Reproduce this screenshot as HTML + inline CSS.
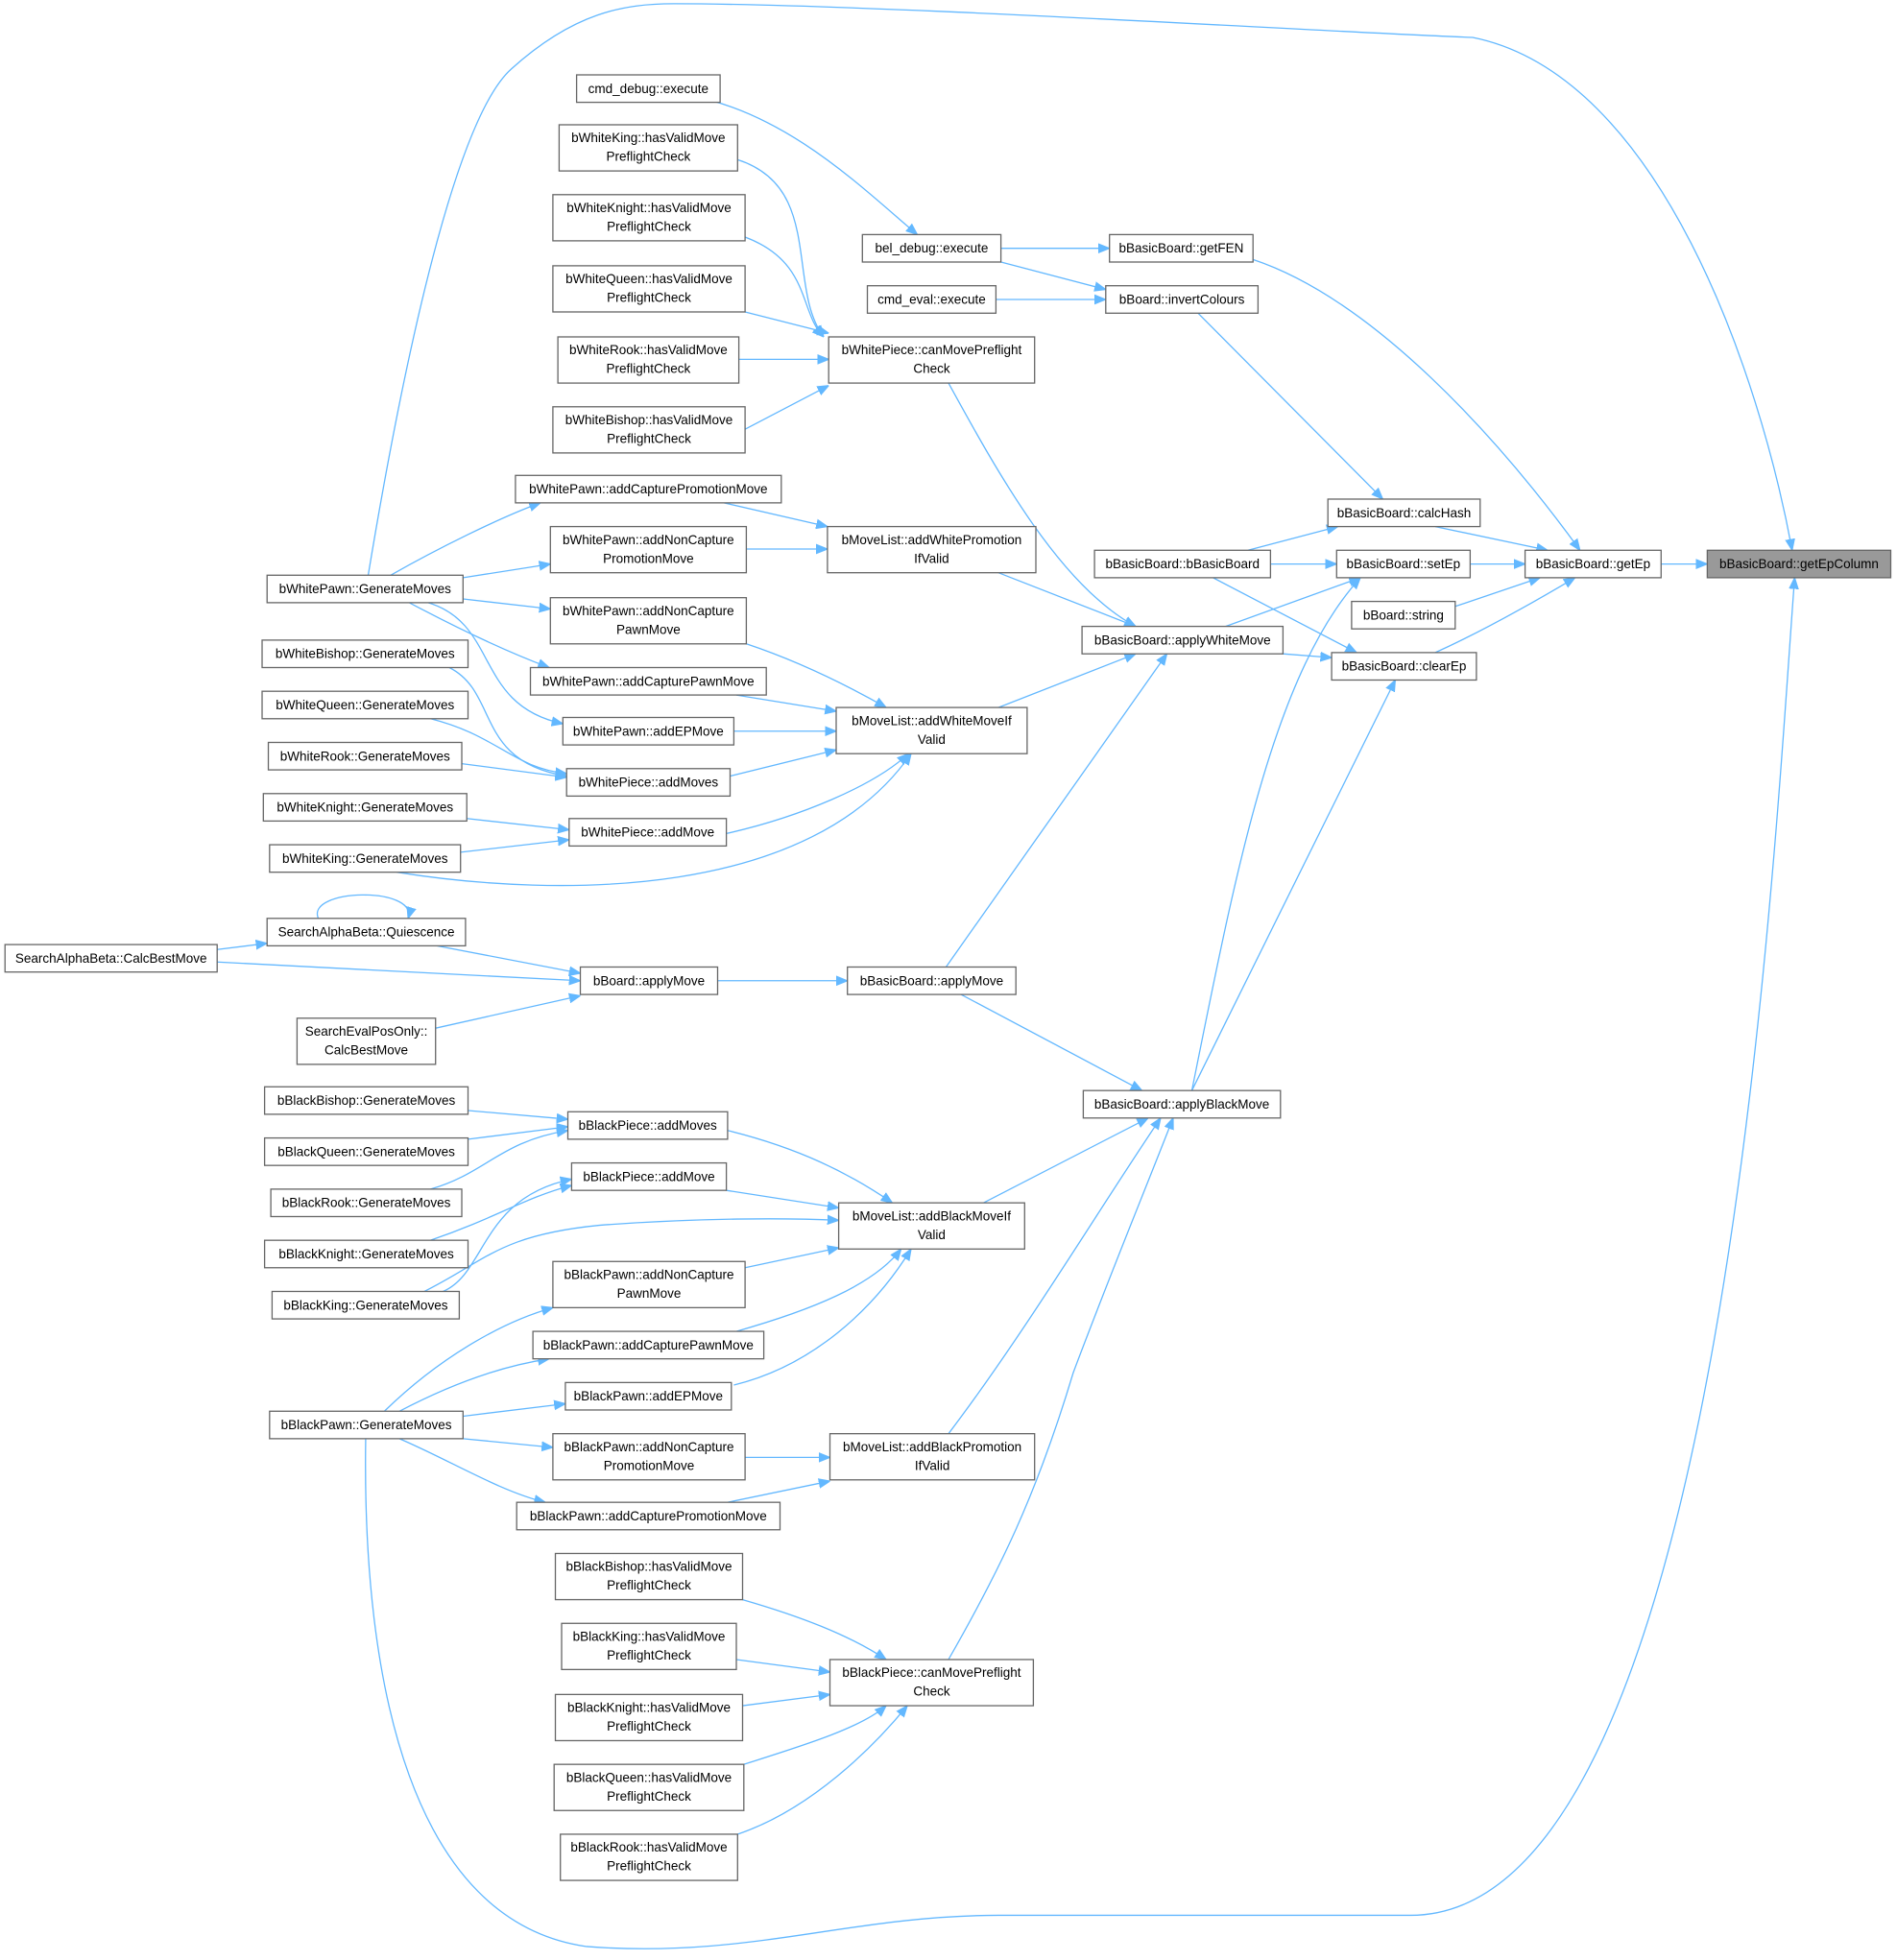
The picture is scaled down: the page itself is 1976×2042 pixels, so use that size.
<!DOCTYPE html>
<html><head><meta charset="utf-8"><style>
html,body{margin:0;padding:0;background:#fff;}
svg{display:block;}
text{font-family:"Liberation Sans",sans-serif;font-size:10.4px;fill:#000;text-anchor:middle;}
rect{fill:#fff;stroke:#666;stroke-width:1;}
path{fill:none;stroke:#63b8ff;stroke-width:1;}
</style></head><body>
<svg width="1976" height="2042" viewBox="0 0 1520 1570.8" xmlns="http://www.w3.org/2000/svg">
<defs><marker id="a" viewBox="0 0 10 10" refX="10" refY="5" markerWidth="9" markerHeight="9" markerUnits="userSpaceOnUse" orient="auto"><path d="M0,1 L10,5 L0,9 Z" style="fill:#63b8ff;stroke:#63b8ff"/></marker></defs>
<g marker-end="url(#a)">
<path d="M1331,452 L1368,452"/>
<path d="M295,461 C330,250 370,90 410,55 C460,10 500,3 540,3 C700,3 1050,25 1180,30 C1330,60 1410,300 1436,441"/>
<path d="M293,1153 C290,1350 330,1540 470,1560 C600,1570 680,1535 800,1535 L1130,1535 C1380,1535 1420,700 1438,463"/>
<path d="M1150,422 L1240,441"/>
<path d="M1178,452 L1222,452"/>
<path d="M1166,486 L1234,463"/>
<path d="M1150,523 C1190,505 1230,482 1262,463"/>
<path d="M1004,208 C1100,240 1200,350 1266,441"/>
<path d="M960,251 L1108,400"/>
<path d="M1000,441 L1072,422"/>
<path d="M1018,452 L1071,452"/>
<path d="M972,463 L1087,523"/>
<path d="M982,502 L1090,463"/>
<path d="M1028,524 L1067,527"/>
<path d="M955,874 C990,700 1020,540 1090,463"/>
<path d="M955,874 L1118,545"/>
<path d="M802,199 L889,199"/>
<path d="M802,210 L886,232"/>
<path d="M798,240 L886,240"/>
<path d="M550,76 C630,90 690,150 735,188"/>
<path d="M760,307 C800,380 850,470 910,502"/>
<path d="M591,128 C660,150 630,230 660,270"/>
<path d="M597,190 C650,210 640,250 660,270"/>
<path d="M597,250 L664,267"/>
<path d="M592,288 L664,288"/>
<path d="M597,344 L664,309"/>
<path d="M800,459 L910,502"/>
<path d="M800,567 L910,524"/>
<path d="M758,775 L935,524"/>
<path d="M770,797 L915,874"/>
<path d="M575,786 L679,786"/>
<path d="M350,758 L465,780"/>
<path d="M255,736 C245,712 335,710 327,736"/>
<path d="M174,761 L214,756"/>
<path d="M174,771 L465,786"/>
<path d="M349,824 L465,798"/>
<path d="M580,403 L663,422"/>
<path d="M598,440 L663,440"/>
<path d="M598,516 C640,530 680,550 710,567"/>
<path d="M590,557 L670,570"/>
<path d="M588,586 L670,586"/>
<path d="M585,622 L670,601"/>
<path d="M582,668 C640,655 700,630 728,604"/>
<path d="M318,699 C450,720 650,720 730,604"/>
<path d="M313,461 C350,440 400,415 433,403"/>
<path d="M371,463 L441,452"/>
<path d="M371,480 L441,488"/>
<path d="M328,483 C360,500 400,520 440,535"/>
<path d="M343,483 C400,500 380,565 451,580"/>
<path d="M360,535 C400,555 380,610 454,622"/>
<path d="M345,576 C400,590 410,615 454,620"/>
<path d="M370,612 L454,623"/>
<path d="M374,656 L456,665"/>
<path d="M369,683 L456,673"/>
<path d="M788,964 L920,896"/>
<path d="M760,1149 C820,1070 880,970 930,896"/>
<path d="M760,1330 C800,1260 830,1200 860,1100 C890,1020 915,960 940,896"/>
<path d="M583,906 C640,920 680,940 715,964"/>
<path d="M582,954 L672,968"/>
<path d="M340,1035 C390,1010 400,990 480,982 C560,976 630,976 672,978"/>
<path d="M597,1016 L672,1000"/>
<path d="M590,1067 C650,1050 700,1030 722,1001"/>
<path d="M588,1110 C650,1095 700,1050 730,1001"/>
<path d="M597,1168 L665,1168"/>
<path d="M583,1204 L665,1187"/>
<path d="M375,890 L455,897"/>
<path d="M375,913 L455,903"/>
<path d="M345,953 C390,940 400,915 455,906"/>
<path d="M345,994 C400,975 420,960 458,950"/>
<path d="M355,1035 C390,1020 385,960 458,945"/>
<path d="M308,1131 C350,1090 400,1060 443,1048"/>
<path d="M320,1131 C360,1110 400,1095 440,1089"/>
<path d="M371,1135 L453,1125"/>
<path d="M371,1153 L443,1160"/>
<path d="M320,1153 C360,1170 400,1195 437,1204"/>
<path d="M595,1282 C640,1295 680,1310 710,1330"/>
<path d="M590,1330 L665,1340"/>
<path d="M595,1367 L665,1358"/>
<path d="M596,1414 C640,1400 690,1385 710,1367"/>
<path d="M591,1470 C650,1450 700,1400 727,1367"/>
</g>
<g>
<rect x="1368" y="441" width="147" height="22" style="fill:#999"/><text x="1441.5" y="455.5">bBasicBoard::getEpColumn</text>
<rect x="1222" y="441" width="109" height="22"/><text x="1276.5" y="455.5">bBasicBoard::getEp</text>
<rect x="1064" y="400" width="122" height="22"/><text x="1125" y="414.5">bBasicBoard::calcHash</text>
<rect x="1071" y="441" width="107" height="22"/><text x="1124.5" y="455.5">bBasicBoard::setEp</text>
<rect x="1083" y="482" width="83" height="22"/><text x="1124.5" y="496.5">bBoard::string</text>
<rect x="1067" y="523" width="116" height="22"/><text x="1125" y="537.5">bBasicBoard::clearEp</text>
<rect x="889" y="188" width="115" height="22"/><text x="946.5" y="202.5">bBasicBoard::getFEN</text>
<rect x="886" y="229" width="122" height="22"/><text x="947" y="243.5">bBoard::invertColours</text>
<rect x="691" y="188" width="111" height="22"/><text x="746.5" y="202.5">bel_debug::execute</text>
<rect x="695" y="229" width="103" height="22"/><text x="746.5" y="243.5">cmd_eval::execute</text>
<rect x="462" y="60" width="115" height="22"/><text x="519.5" y="74.5">cmd_debug::execute</text>
<rect x="877" y="441" width="141" height="22"/><text x="947.5" y="455.5">bBasicBoard::bBasicBoard</text>
<rect x="867" y="502" width="161" height="22"/><text x="947.5" y="516.5">bBasicBoard::applyWhiteMove</text>
<rect x="664" y="270" width="165" height="37"/><text x="746.5" y="284">bWhitePiece::canMovePreflight</text><text x="746.5" y="299">Check</text>
<rect x="448" y="100" width="143" height="37"/><text x="519.5" y="114">bWhiteKing::hasValidMove</text><text x="519.5" y="129">PreflightCheck</text>
<rect x="443" y="156" width="154" height="37"/><text x="520" y="170">bWhiteKnight::hasValidMove</text><text x="520" y="185">PreflightCheck</text>
<rect x="443" y="213" width="154" height="37"/><text x="520" y="227">bWhiteQueen::hasValidMove</text><text x="520" y="242">PreflightCheck</text>
<rect x="447" y="270" width="145" height="37"/><text x="519.5" y="284">bWhiteRook::hasValidMove</text><text x="519.5" y="299">PreflightCheck</text>
<rect x="443" y="326" width="154" height="37"/><text x="520" y="340">bWhiteBishop::hasValidMove</text><text x="520" y="355">PreflightCheck</text>
<rect x="413" y="381" width="213" height="22"/><text x="519.5" y="395.5">bWhitePawn::addCapturePromotionMove</text>
<rect x="441" y="422" width="157" height="37"/><text x="519.5" y="436">bWhitePawn::addNonCapture</text><text x="519.5" y="451">PromotionMove</text>
<rect x="441" y="479" width="157" height="37"/><text x="519.5" y="493">bWhitePawn::addNonCapture</text><text x="519.5" y="508">PawnMove</text>
<rect x="425" y="535" width="189" height="22"/><text x="519.5" y="549.5">bWhitePawn::addCapturePawnMove</text>
<rect x="451" y="575" width="137" height="22"/><text x="519.5" y="589.5">bWhitePawn::addEPMove</text>
<rect x="454" y="616" width="131" height="22"/><text x="519.5" y="630.5">bWhitePiece::addMoves</text>
<rect x="456" y="656" width="126" height="22"/><text x="519" y="670.5">bWhitePiece::addMove</text>
<rect x="663" y="422" width="167" height="37"/><text x="746.5" y="436">bMoveList::addWhitePromotion</text><text x="746.5" y="451">IfValid</text>
<rect x="670" y="567" width="153" height="37"/><text x="746.5" y="581">bMoveList::addWhiteMoveIf</text><text x="746.5" y="596">Valid</text>
<rect x="214" y="461" width="157" height="22"/><text x="292.5" y="475.5">bWhitePawn::GenerateMoves</text>
<rect x="210" y="513" width="165" height="22"/><text x="292.5" y="527.5">bWhiteBishop::GenerateMoves</text>
<rect x="210" y="554" width="165" height="22"/><text x="292.5" y="568.5">bWhiteQueen::GenerateMoves</text>
<rect x="215" y="595" width="155" height="22"/><text x="292.5" y="609.5">bWhiteRook::GenerateMoves</text>
<rect x="211" y="636" width="163" height="22"/><text x="292.5" y="650.5">bWhiteKnight::GenerateMoves</text>
<rect x="216" y="677" width="153" height="22"/><text x="292.5" y="691.5">bWhiteKing::GenerateMoves</text>
<rect x="214" y="736" width="159" height="22"/><text x="293.5" y="750.5">SearchAlphaBeta::Quiescence</text>
<rect x="4" y="757" width="170" height="22"/><text x="89" y="771.5">SearchAlphaBeta::CalcBestMove</text>
<rect x="238" y="816" width="111" height="37"/><text x="293.5" y="830">SearchEvalPosOnly::</text><text x="293.5" y="845">CalcBestMove</text>
<rect x="465" y="775" width="110" height="22"/><text x="520" y="789.5">bBoard::applyMove</text>
<rect x="679" y="775" width="135" height="22"/><text x="746.5" y="789.5">bBasicBoard::applyMove</text>
<rect x="868" y="874" width="158" height="22"/><text x="947" y="888.5">bBasicBoard::applyBlackMove</text>
<rect x="455" y="891" width="128" height="22"/><text x="519" y="905.5">bBlackPiece::addMoves</text>
<rect x="458" y="932" width="124" height="22"/><text x="520" y="946.5">bBlackPiece::addMove</text>
<rect x="672" y="964" width="149" height="37"/><text x="746.5" y="978">bMoveList::addBlackMoveIf</text><text x="746.5" y="993">Valid</text>
<rect x="212" y="871" width="163" height="22"/><text x="293.5" y="885.5">bBlackBishop::GenerateMoves</text>
<rect x="212" y="912" width="163" height="22"/><text x="293.5" y="926.5">bBlackQueen::GenerateMoves</text>
<rect x="217" y="953" width="153" height="22"/><text x="293.5" y="967.5">bBlackRook::GenerateMoves</text>
<rect x="212" y="994" width="163" height="22"/><text x="293.5" y="1008.5">bBlackKnight::GenerateMoves</text>
<rect x="218" y="1035" width="150" height="22"/><text x="293" y="1049.5">bBlackKing::GenerateMoves</text>
<rect x="443" y="1011" width="154" height="37"/><text x="520" y="1025">bBlackPawn::addNonCapture</text><text x="520" y="1040">PawnMove</text>
<rect x="427" y="1067" width="185" height="22"/><text x="519.5" y="1081.5">bBlackPawn::addCapturePawnMove</text>
<rect x="453" y="1108" width="133" height="22"/><text x="519.5" y="1122.5">bBlackPawn::addEPMove</text>
<rect x="443" y="1149" width="154" height="37"/><text x="520" y="1163">bBlackPawn::addNonCapture</text><text x="520" y="1178">PromotionMove</text>
<rect x="414" y="1204" width="211" height="22"/><text x="519.5" y="1218.5">bBlackPawn::addCapturePromotionMove</text>
<rect x="665" y="1149" width="164" height="37"/><text x="747" y="1163">bMoveList::addBlackPromotion</text><text x="747" y="1178">IfValid</text>
<rect x="216" y="1131" width="155" height="22"/><text x="293.5" y="1145.5">bBlackPawn::GenerateMoves</text>
<rect x="445" y="1245" width="150" height="37"/><text x="520" y="1259">bBlackBishop::hasValidMove</text><text x="520" y="1274">PreflightCheck</text>
<rect x="450" y="1301" width="140" height="37"/><text x="520" y="1315">bBlackKing::hasValidMove</text><text x="520" y="1330">PreflightCheck</text>
<rect x="445" y="1358" width="150" height="37"/><text x="520" y="1372">bBlackKnight::hasValidMove</text><text x="520" y="1387">PreflightCheck</text>
<rect x="444" y="1414" width="152" height="37"/><text x="520" y="1428">bBlackQueen::hasValidMove</text><text x="520" y="1443">PreflightCheck</text>
<rect x="449" y="1470" width="142" height="37"/><text x="520" y="1484">bBlackRook::hasValidMove</text><text x="520" y="1499">PreflightCheck</text>
<rect x="665" y="1330" width="163" height="37"/><text x="746.5" y="1344">bBlackPiece::canMovePreflight</text><text x="746.5" y="1359">Check</text>
</g>
</svg>
</body></html>
